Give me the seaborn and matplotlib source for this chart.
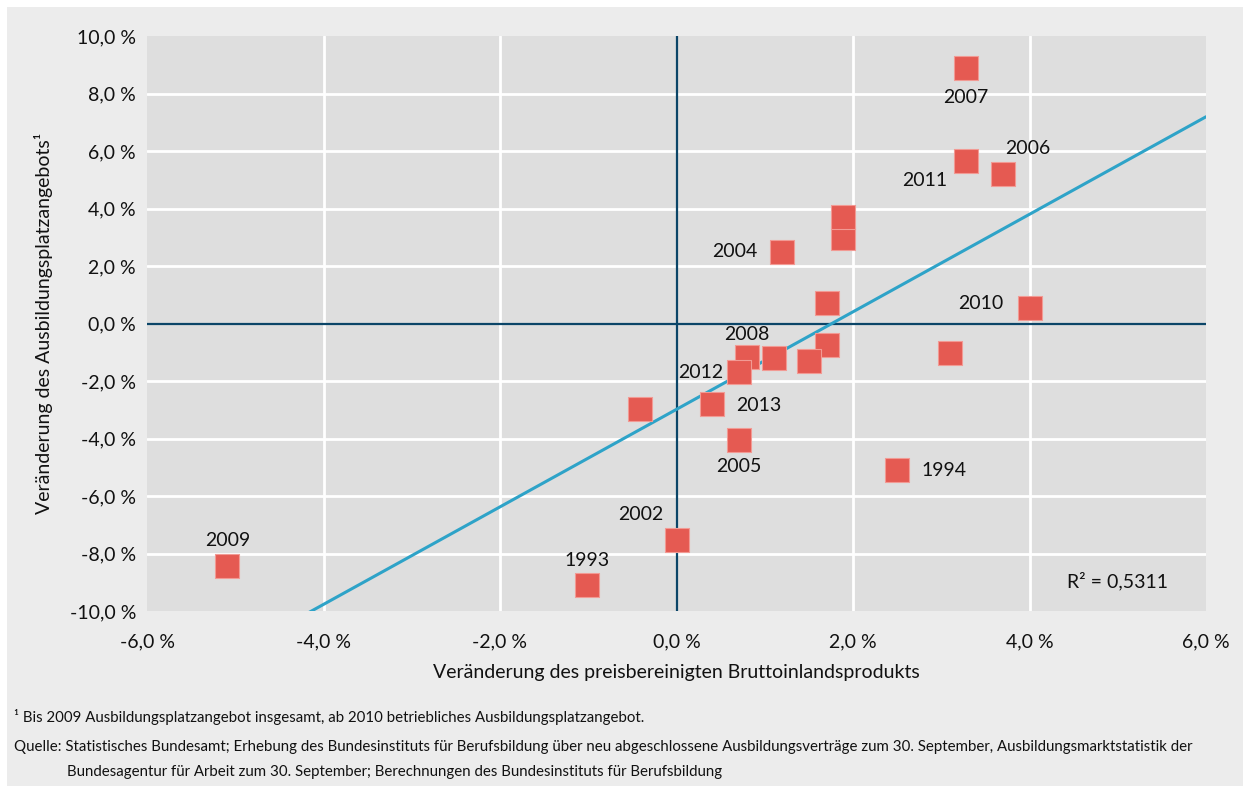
import matplotlib.pyplot as plt
import matplotlib.ticker as mticker
from matplotlib.patches import Rectangle
import seaborn as sns
import pandas as pd
import numpy as np

# Veränderung BIP (x) und Ausbildungsplatzangebot (y), in Prozent
years = [1993, 1994, 1995, 1996, 1997, 1998, 1999, 2000, 2001, 2002, 2003,
         2004, 2005, 2006, 2007, 2008, 2009, 2010, 2011, 2012, 2013]
gdp = [-1.01, 2.50, 1.71, 1.10, 1.71, 1.89, 1.89, 3.10, 1.50, 0.00, -0.41,
       1.20, 0.71, 3.70, 3.28, 0.80, -5.09, 4.00, 3.28, 0.71, 0.40]
supply = [-9.10, -5.10, -0.75, -1.20, 0.71, 2.97, 3.70, -1.03, -1.30, -7.53, -2.97,
          2.49, -4.05, 5.20, 8.89, -1.16, -8.43, 0.54, 5.65, -1.69, -2.80]

# Beschriftete Jahre und Versatz der Beschriftung (Punkte)
label_offsets = {
    1993: (0, 18), 1994: (34, 0), 2002: (-26, 18), 2004: (-34, 0),
    2005: (0, -19), 2006: (18, 18), 2007: (0, -21), 2008: (0, 16),
    2009: (0, 18), 2010: (-35, 3), 2011: (-30, -14), 2012: (-28, 0),
    2013: (34, -1),
}

df = pd.DataFrame({"year": years, "gdp": gdp, "supply": supply})

sns.set_style("white")
plt.rcParams["font.family"] = ["Lato", "DejaVu Sans"]
fs = 14
fs_note = 10.8

W, H = 1250, 793
fig = plt.figure(figsize=(W / 100, H / 100), dpi=100)
fig.patch.set_facecolor("white")
fig.add_artist(Rectangle((7 / W, 7 / H), 1 - 14 / W, 1 - 14 / H,
                         transform=fig.transFigure, facecolor="#ececec",
                         edgecolor="none", zorder=-10))

ax = fig.add_axes([147 / W, 1 - 611 / H, 1059 / W, 575 / H])
ax.set_facecolor("#dedede")
ax.set_xlim(-6, 6)
ax.set_ylim(-10, 10)
ax.set_xticks(np.arange(-6, 7, 2))
ax.set_yticks(np.arange(-10, 11, 2))

for v in [-4, -2, 2, 4]:
    ax.axvline(v, color="white", lw=2, zorder=1)
for v in [-8, -6, -4, -2, 2, 4, 6, 8]:
    ax.axhline(v, color="white", lw=2, zorder=1)
ax.axvline(0, color="#0b4568", lw=1.6, zorder=2)
ax.axhline(0, color="#0b4568", lw=1.6, zorder=2)

sns.regplot(data=df, x="gdp", y="supply", ax=ax, scatter=False, ci=None,
            truncate=False, line_kws={"color": "#2ea3c8", "lw": 2.2, "zorder": 3})

sns.scatterplot(data=df, x="gdp", y="supply", ax=ax, marker="s", s=290,
                color="#e55a52", edgecolor="#f29a94", linewidth=0.8, zorder=4)

for yr, (dx, dy) in label_offsets.items():
    row = df[df["year"] == yr].iloc[0]
    ax.annotate(str(yr), (row["gdp"], row["supply"]), xytext=(dx, dy),
                textcoords="offset points", ha="center", va="center",
                fontsize=fs, color="#111111", zorder=5)

fmt = mticker.FuncFormatter(lambda v, p: f"{v:.1f} %".replace(".", ","))
ax.xaxis.set_major_formatter(fmt)
ax.yaxis.set_major_formatter(fmt)
ax.tick_params(axis="both", length=0, labelsize=fs, colors="#111111")
ax.tick_params(axis="x", pad=16)
ax.tick_params(axis="y", pad=8)
for s in ax.spines.values():
    s.set_visible(False)

ax.set_xlabel("Veränderung des preisbereinigten Bruttoinlandsprodukts",
              fontsize=fs, color="#111111", labelpad=10)
ax.set_ylabel("Veränderung des Ausbildungsplatzangebots\u00b9",
              fontsize=fs, color="#111111", labelpad=12)

ax.text(0.916, 0.052, "R² = 0,5311", transform=ax.transAxes, ha="center",
        va="center", fontsize=fs, color="#111111")

fig.text(14 / W, 1 - 717 / H,
         "\u00b9 Bis 2009 Ausbildungsplatzangebot insgesamt, ab 2010 betriebliches Ausbildungsplatzangebot.",
         fontsize=fs_note, va="center", color="#111111")
fig.text(14 / W, 1 - 747 / H,
         "Quelle: Statistisches Bundesamt; Erhebung des Bundesinstituts für Berufsbildung über neu "
         "abgeschlossene Ausbildungsverträge zum 30. September, Ausbildungsmarktstatistik der",
         fontsize=fs_note, va="center", color="#111111")
fig.text(67 / W, 1 - 772 / H,
         "Bundesagentur für Arbeit zum 30. September; Berechnungen des Bundesinstituts für Berufsbildung",
         fontsize=fs_note, va="center", color="#111111")

fig.savefig("out.png", dpi=100, facecolor=fig.get_facecolor())
plt.close(fig)
